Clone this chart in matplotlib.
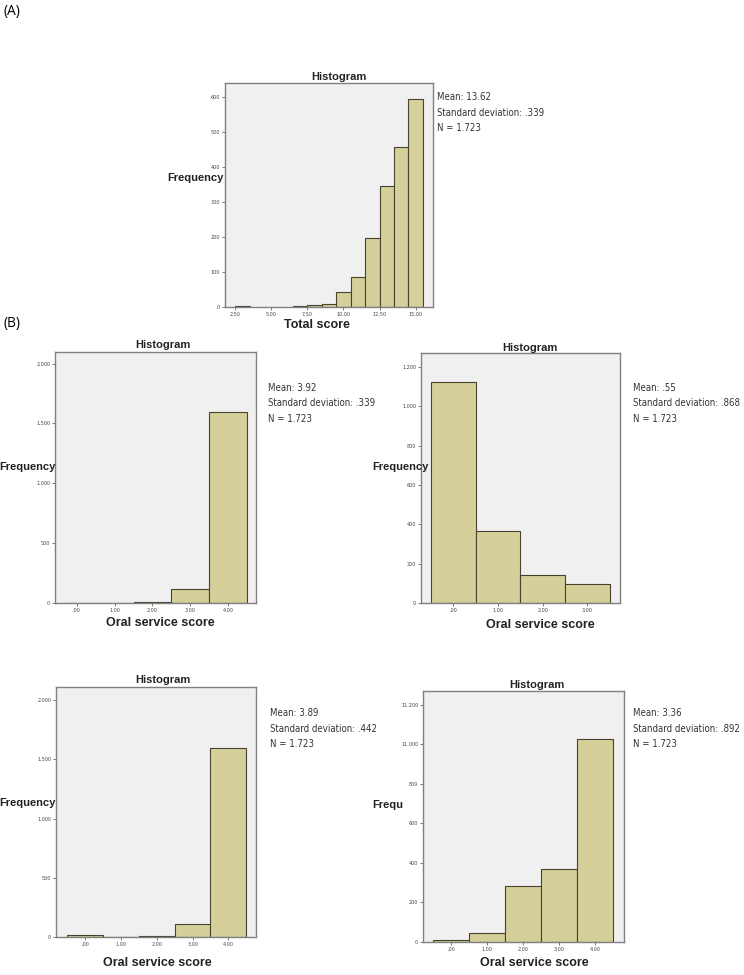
import matplotlib
matplotlib.use("Agg")
import matplotlib.pyplot as plt

W, H = 744, 975

# (A) total score
total_bins = [3, 7, 8, 9, 10, 11, 12, 13, 14, 15]
total_freq = [2, 3, 5, 9, 43, 85, 197, 344, 456, 592]
total_ticks = [2.5, 5.0, 7.5, 10.0, 12.5, 15.0]
total_ticklabels = ["2,50", "5,00", "7,50", "10,00", "12,50", "15,00"]
total_yticks = [0, 100, 200, 300, 400, 500, 600]

# (B) oral service scores
oral_bins = [0, 1, 2, 3, 4]
b1_freq = [3, 1, 5, 120, 1595]
b2_freq = [1124, 364, 144, 98]
b3_freq = [14, 0, 5, 110, 1598]
b4_freq = [12, 47, 282, 369, 1027]
oral_ticklabels = [",00", "1,00", "2,00", "3,00", "4,00"]

b13_yticks = [0, 500, 1000, 1500, 2000]
b13_yticklabels = ["0", "500", "1.000", "1.500", "2.000"]
b2_yticks = [0, 200, 400, 600, 800, 1000, 1200]
b2_yticklabels = ["0", "200", "400", "600", "800", "1.000", "1.200"]
b4_yticklabels = ["0", "200", "400", "600", "800", "11.000", "11.200"]

BAR = "#d5d09a"
EDGE = "#45432f"
BG = "#f0f0f0"
NARROW = ["DejaVu Sans"]
BOLD = ["Liberation Sans", "DejaVu Sans"]

fig = plt.figure(figsize=(W / 100, H / 100), dpi=100)


def px_axes(left, right, top, bottom):
    return fig.add_axes([left / W, 1 - bottom / H, (right - left) / W, (bottom - top) / H])


def px_text(x, y, s, **kw):
    fig.text(x / W, 1 - y / H, s, **kw)


def hist_panel(box, bins, freq, xlim, ylim, xticks, xticklabels, yticks, yticklabels):
    ax = px_axes(*box)
    ax.set_facecolor(BG)
    ax.bar(bins, freq, width=1.0, color=BAR, edgecolor=EDGE, linewidth=0.8, zorder=2)
    ax.set_xlim(*xlim)
    ax.set_ylim(*ylim)
    ax.set_xticks(xticks)
    ax.set_xticklabels(xticklabels)
    ax.set_yticks(yticks)
    ax.set_yticklabels(yticklabels)
    ax.tick_params(labelsize=3.5, length=2, width=0.5, colors="#444444", pad=1.5)
    for s in ax.spines.values():
        s.set_color("#808080")
        s.set_linewidth(1.0)
    return ax


def stats(x, y, lines):
    for i, ln in enumerate(lines):
        px_text(x, y + i * 15.5, ln, fontsize=6.9, family=NARROW, stretch="condensed",
                color="#333333", va="center", ha="left")


title_kw = dict(fontsize=8, fontweight="bold", family=BOLD, ha="center", va="center", color="#222222")
xlab_kw = dict(fontsize=9, fontweight="bold", family=BOLD, ha="center", va="center", color="#222222")
ylab_kw = dict(fontsize=8, fontweight="bold", family=BOLD, ha="right", va="center", color="#222222")

px_text(4, 12, "(A)", fontsize=10, family=["Open Sans", "DejaVu Sans"], va="center")
px_text(4, 323, "(B)", fontsize=10, family=["Open Sans", "DejaVu Sans"], va="center")

# (A)
hist_panel((225, 433, 83, 307), total_bins, total_freq, (1.8, 16.2), (0, 639),
           total_ticks, total_ticklabels, total_yticks, [str(v) for v in total_yticks])
px_text(339, 77, "Histogram", **title_kw)
px_text(317, 325, "Total score", **xlab_kw)
px_text(224, 178, "Frequency", **ylab_kw)
stats(437, 97, ["Mean: 13.62", "Standard deviation: .339", "N = 1.723"])

# (B) top-left
hist_panel((55, 256, 352, 603), oral_bins, b1_freq, (-0.57, 4.73), (0, 2097),
           oral_bins, oral_ticklabels, b13_yticks, b13_yticklabels)
px_text(163, 345, "Histogram", **title_kw)
px_text(160, 623, "Oral service score", **xlab_kw)
px_text(56, 467, "Frequency", **ylab_kw)
stats(268, 388, ["Mean: 3.92", "Standard deviation: .339", "N = 1.723"])

# (B) top-right
hist_panel((421, 620, 353, 603), oral_bins[:4], b2_freq, (-0.72, 3.73), (0, 1271),
           oral_bins[:4], oral_ticklabels[:4], b2_yticks, b2_yticklabels)
px_text(530, 348, "Histogram", **title_kw)
px_text(540, 625, "Oral service score", **xlab_kw)
px_text(429, 467, "Frequency", **ylab_kw)
stats(633, 388, ["Mean: .55", "Standard deviation: .868", "N = 1.723"])

# (B) bottom-left
hist_panel((56, 256, 687, 937), oral_bins, b3_freq, (-0.81, 4.77), (0, 2112),
           oral_bins, oral_ticklabels, b13_yticks, b13_yticklabels)
px_text(163, 680, "Histogram", **title_kw)
px_text(157, 963, "Oral service score", **xlab_kw)
px_text(56, 803, "Frequency", **ylab_kw)
stats(270, 713, ["Mean: 3.89", "Standard deviation: .442", "N = 1.723"])

# (B) bottom-right
hist_panel((423, 624, 691, 942), oral_bins, b4_freq, (-0.79, 4.8), (0, 1270),
           oral_bins, oral_ticklabels, b2_yticks, b4_yticklabels)
px_text(537, 685, "Histogram", **title_kw)
px_text(534, 963, "Oral service score", **xlab_kw)
px_text(403, 805, "Frequ", **ylab_kw)
stats(633, 713, ["Mean: 3.36", "Standard deviation: .892", "N = 1.723"])

fig.savefig("out.png", dpi=100)
